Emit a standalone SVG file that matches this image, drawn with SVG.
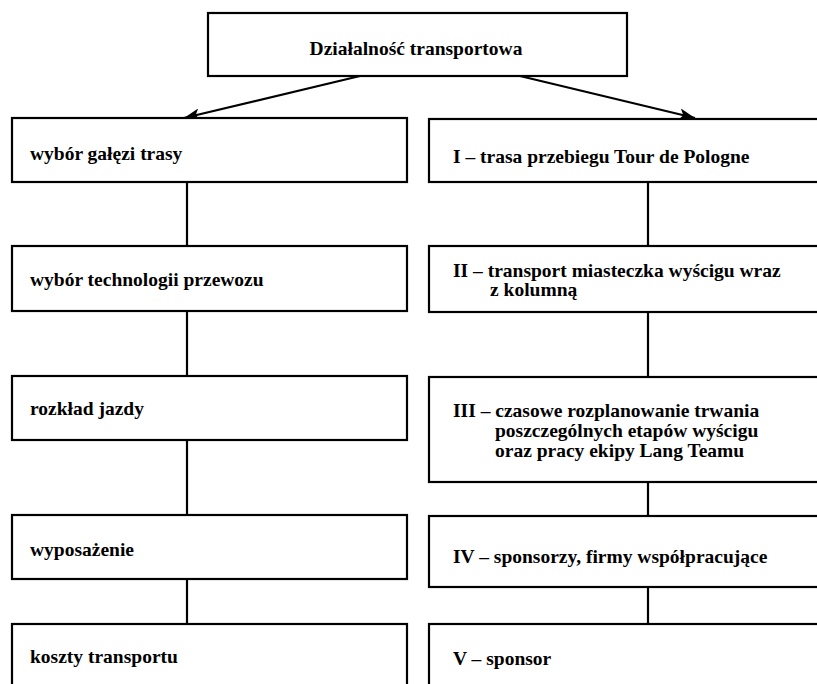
<svg xmlns="http://www.w3.org/2000/svg" width="817" height="684" viewBox="0 0 817 684">
<style>
.box{fill:#fff;stroke:#000;stroke-width:2.2}
.t{font-family:"Liberation Serif","Times New Roman",serif;font-weight:bold;font-size:19.5px;fill:#000}
.c{stroke:#000;stroke-width:2.2;fill:none}
</style>
<defs>
<marker id="ah" markerWidth="18" markerHeight="12" refX="16" refY="6" orient="auto" markerUnits="userSpaceOnUse">
<path d="M0,0 L16,6 L0,12 L4,6 Z" fill="#000"/>
</marker>
</defs>
<rect width="817" height="684" fill="#fff"/>
<g id="connectors">
<line class="c" x1="360" y1="76" x2="184" y2="118" marker-end="url(#ah)"/>
<line class="c" x1="520" y1="76" x2="695" y2="118" marker-end="url(#ah)"/>
<line class="c" x1="187" y1="182" x2="187" y2="246"/>
<line class="c" x1="187" y1="311" x2="187" y2="376"/>
<line class="c" x1="187" y1="440" x2="187" y2="515"/>
<line class="c" x1="187" y1="579" x2="187" y2="624"/>
<line class="c" x1="648" y1="182" x2="648" y2="246"/>
<line class="c" x1="648" y1="312" x2="648" y2="377"/>
<line class="c" x1="648" y1="482" x2="648" y2="516"/>
<line class="c" x1="648" y1="587" x2="648" y2="624"/>
</g>
<g id="top">
<rect class="box" x="208" y="13" width="419" height="63"/>
<text class="t" x="416" y="55" text-anchor="middle">Działalność transportowa</text>
</g>
<g id="l1">
<rect class="box" x="12" y="118" width="395" height="64"/>
<text class="t" x="30" y="160">wybór gałęzi trasy</text>
</g>
<g id="l2">
<rect class="box" x="12" y="246" width="395" height="65"/>
<text class="t" x="30" y="286">wybór technologii przewozu</text>
</g>
<g id="l3">
<rect class="box" x="12" y="376" width="395" height="64"/>
<text class="t" x="30" y="415">rozkład jazdy</text>
</g>
<g id="l4">
<rect class="box" x="12" y="515" width="395" height="64"/>
<text class="t" x="30" y="556">wyposażenie</text>
</g>
<g id="l5">
<rect class="box" x="12" y="624" width="395" height="80"/>
<text class="t" x="30" y="663">koszty transportu</text>
</g>
<g id="r1">
<rect class="box" x="429" y="119" width="400" height="63"/>
<text class="t" x="453" y="163">I – trasa przebiegu Tour de Pologne</text>
</g>
<g id="r2">
<rect class="box" x="429" y="246" width="400" height="66"/>
<text class="t" x="453" y="277">II – transport miasteczka wyścigu wraz</text>
<text class="t" x="490" y="296">z kolumną</text>
</g>
<g id="r3">
<rect class="box" x="429" y="377" width="400" height="105"/>
<text class="t" x="453" y="417">III – czasowe rozplanowanie trwania</text>
<text class="t" x="495" y="437">poszczególnych etapów wyścigu</text>
<text class="t" x="495" y="457">oraz pracy ekipy Lang Teamu</text>
</g>
<g id="r4">
<rect class="box" x="429" y="516" width="400" height="71"/>
<text class="t" x="453" y="563">IV – sponsorzy, firmy współpracujące</text>
</g>
<g id="r5">
<rect class="box" x="429" y="624" width="400" height="80"/>
<text class="t" x="453" y="665">V – sponsor</text>
</g>
</svg>
